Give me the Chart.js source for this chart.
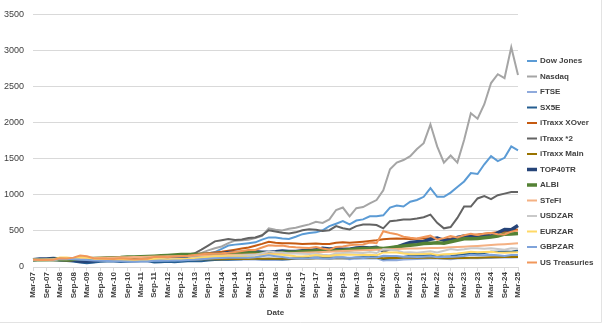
<!DOCTYPE html>
<html>
<head>
<meta charset="utf-8">
<script src="https://cdn.jsdelivr.net/npm/chart.js@4.4.1/dist/chart.umd.min.js"></script>
<style>
  html, body { margin: 0; padding: 0; background: #fff; }
  #wrap { width: 604px; height: 326px; }
</style>
</head>
<body>
<div id="wrap"><canvas id="perfChart" width="604" height="326"></canvas></div>
<script>
// quarter-end dates, every second one is labelled on the axis
const dates = [
  'Mar-07','Jun-07','Sep-07','Dec-07','Mar-08','Jun-08','Sep-08','Dec-08',
  'Mar-09','Jun-09','Sep-09','Dec-09','Mar-10','Jun-10','Sep-10','Dec-10',
  'Mar-11','Jun-11','Sep-11','Dec-11','Mar-12','Jun-12','Sep-12','Dec-12',
  'Mar-13','Jun-13','Sep-13','Dec-13','Mar-14','Jun-14','Sep-14','Dec-14',
  'Mar-15','Jun-15','Sep-15','Dec-15','Mar-16','Jun-16','Sep-16','Dec-16',
  'Mar-17','Jun-17','Sep-17','Dec-17','Mar-18','Jun-18','Sep-18','Dec-18',
  'Mar-19','Jun-19','Sep-19','Dec-19','Mar-20','Jun-20','Sep-20','Dec-20',
  'Mar-21','Jun-21','Sep-21','Dec-21','Mar-22','Jun-22','Sep-22','Dec-22',
  'Mar-23','Jun-23','Sep-23','Dec-23','Mar-24','Jun-24','Sep-24','Dec-24',
  'Mar-25'
];

const yTicks = [0, 500, 1000, 1500, 2000, 2500, 3000, 3500];

const dowJones = [100,102,100,95,88,90,85,72,66,75,85,90,95,88,98,105,110,108,100,106,118,120,125,130,
  162,175,190,207,250,297,310,320,330,342,380,410,410,395,388,419,455,470,480,509,567,600,635,590,
  644,660,702,702,716,824,851,838,905,928,973,1094,973,973,1031,1108,1185,1301,1288,1423,1536,1468,1513,1671,1617];

const nasdaq = [100,104,110,108,95,96,90,72,70,82,95,100,104,95,108,115,122,118,110,115,130,128,135,140,
  165,195,230,260,284,330,365,372,378,400,432,536,515,505,530,545,567,590,626,610,660,790,824,702,
  815,830,882,928,1063,1355,1446,1482,1536,1635,1716,1977,1671,1446,1544,1446,1760,2130,2054,2256,2549,2671,2617,3044,2661];

const ftse = [100,105,103,102,90,89,78,70,62,67,81,86,90,78,88,94,94,94,81,88,92,88,91,94,
  102,99,103,107,105,107,105,104,107,103,96,99,98,103,110,113,116,116,117,122,112,121,119,107,
  116,118,118,120,90,98,93,103,107,112,113,117,119,114,109,118,121,120,121,123,126,130,131,130,136];

const sx5e = [100,108,106,107,89,82,76,62,53,61,74,77,77,68,74,76,80,79,62,66,72,66,72,78,
  79,80,90,98,100,102,104,107,128,118,110,115,110,104,108,118,128,130,132,134,130,132,132,120,
  132,136,138,146,110,122,122,140,155,160,158,166,158,145,148,166,180,184,180,194,212,212,215,212,230];

const itraxxXover = [100,102,103,105,108,106,108,112,115,120,125,128,130,133,136,140,143,146,148,152,156,160,165,170,
  180,185,192,200,210,225,240,255,270,295,320,350,335,330,330,325,320,322,325,318,320,335,342,335,
  342,350,360,370,385,392,395,392,388,390,395,400,392,385,395,410,425,440,450,460,470,480,490,505,520];

const itraxx2 = [100,98,105,110,115,112,118,125,115,110,108,112,115,118,122,125,128,130,135,140,148,155,165,175,
  190,240,297,355,370,387,374,380,401,410,440,509,491,475,464,480,509,522,515,500,510,567,536,520,
  567,590,590,581,536,635,644,658,658,671,689,725,612,536,554,680,838,838,950,982,941,995,1017,1040,1040];

const itraxxMain = [100,99,97,95,92,90,85,80,82,88,92,95,96,97,98,99,100,99,96,98,100,102,103,104,
  105,106,107,108,109,110,111,112,112,113,113,114,114,115,116,117,118,119,120,121,121,122,122,123,
  124,125,126,127,122,124,126,127,128,128,129,129,126,122,121,123,125,127,129,132,134,136,138,139,140];

const top40tr = [100,110,112,118,112,115,95,80,78,88,100,108,112,105,115,122,125,125,120,125,132,133,140,150,
  155,155,168,180,185,200,200,205,215,210,205,205,210,220,215,215,225,225,240,260,250,255,245,245,
  265,270,265,272,220,255,275,310,340,350,355,385,400,370,370,410,430,420,405,440,430,475,520,515,575];

const albi = [100,101,99,103,104,100,106,118,116,118,122,124,128,132,140,140,142,146,150,155,160,166,172,172,
  174,172,174,172,176,182,186,192,196,194,190,180,192,200,206,208,214,218,224,232,236,228,232,240,
  248,255,258,262,255,268,280,290,300,310,325,330,335,330,350,370,390,390,395,405,415,430,455,458,464];

const stefi = [100,102.3,104.7,107.2,109.8,112.8,115.9,119.2,122.4,124.9,127.2,129.7,132.2,134.2,136.1,138.1,
  140.1,142.0,143.9,145.8,147.8,149.8,151.7,153.7,155.7,157.7,159.7,161.7,163.8,166.2,168.5,170.9,
  173.4,176.1,178.9,181.7,184.5,187.8,191.1,194.6,198.2,201.8,205.5,209.2,212.9,216.6,220.4,224.2,
  228.0,231.9,235.8,239.7,243.7,246.6,249.3,252.0,254.7,257.1,259.5,261.9,264.4,268.2,272.2,276.4,
  280.8,286.4,292.1,298.0,304.1,310.2,316.4,322.8,329.3];

const usdzar = [100,97,95,94,111,109,114,131,131,107,103,102,100,105,96,91,94,93,111,111,106,113,114,117,
  127,136,138,144,144,146,155,160,166,168,191,213,204,202,188,188,184,180,186,171,162,188,194,198,
  199,194,208,193,246,239,230,202,204,197,208,219,201,224,248,234,245,260,260,252,260,250,238,259,252];

const eurzar = [100,98,101,103,132,130,121,137,130,111,113,109,102,97,98,92,99,101,112,108,105,106,110,115,
  122,133,140,149,149,149,147,144,134,140,160,174,172,169,159,149,147,154,165,153,151,165,169,170,
  168,165,171,162,202,201,202,186,178,175,180,186,167,175,181,188,199,212,206,208,210,201,198,202,204];

const gbpzar = [100,101,102,99,114,110,106,99,96,89,86,84,78,81,77,73,77,77,88,89,87,90,91,96,
  99,106,114,121,123,127,129,127,127,135,148,162,149,138,125,119,118,120,127,117,117,127,130,129,
  133,126,131,131,155,151,152,141,143,139,143,149,135,139,141,144,154,168,162,164,168,164,154,166,167];

const usTreasuries = [100,97,98,100,121,117,130,160,150,122,117,113,112,122,114,108,112,114,140,142,135,146,150,155,
  168,178,182,188,190,196,208,222,235,236,270,300,295,298,280,272,268,265,276,255,240,278,285,300,
  310,312,340,330,495,470,455,420,405,395,415,435,380,400,430,410,440,460,445,460,470,455,450,490,505];

const seriesNames = ['Dow Jones','Nasdaq','FTSE','SX5E','iTraxx XOver','iTraxx *2','iTraxx Main',
  'TOP40TR','ALBI','STeFI','USDZAR','EURZAR','GBPZAR','US Treasuries'];
const seriesValues = [dowJones, nasdaq, ftse, sx5e, itraxxXover, itraxx2, itraxxMain,
  top40tr, albi, stefi, usdzar, eurzar, gbpzar, usTreasuries];
const seriesColors = ['#5B9BD5','#A5A5A5','#8FAADC','#255E91','#C55A11','#636363','#997300',
  '#264478','#548235','#F4B183','#C9C9C9','#FFD966','#7FA3DA','#F1975A'];
const seriesWidths = [2,2,2,2,2,2,2,3.5,3.5,2,2,2,2,2];

const FONT = '"Liberation Sans", Arial, sans-serif';

// legend drawn to the right of the plot, one short line per series
const sideLegend = {
  id: 'sideLegend',
  afterDraw(chart) {
    const ctx = chart.ctx;
    const top = 61, step = 15.5;
    ctx.save();
    ctx.font = 'bold 8px ' + FONT;
    ctx.textBaseline = 'middle';
    chart.data.datasets.forEach((ds, i) => {
      const y = top + i * step;
      ctx.strokeStyle = ds.borderColor;
      ctx.lineWidth = ds.borderWidth;
      ctx.beginPath();
      ctx.moveTo(527, y);
      ctx.lineTo(537, y);
      ctx.stroke();
      ctx.fillStyle = '#404040';
      ctx.fillText(ds.label, 540, y);
    });
    ctx.restore();
  }
};

// thin frame around the chart area, as in the spreadsheet export
const frame = {
  id: 'frame',
  beforeDraw(chart) {
    const ctx = chart.ctx;
    ctx.save();
    ctx.fillStyle = '#fff';
    ctx.fillRect(0, 0, chart.width, chart.height);
    ctx.strokeStyle = '#E3E3E3';
    ctx.lineWidth = 1;
    ctx.beginPath();
    ctx.moveTo(0, 322.5);
    ctx.lineTo(601.5, 322.5);
    ctx.lineTo(601.5, 0);
    ctx.stroke();
    ctx.restore();
  }
};

new Chart(document.getElementById('perfChart'), {
  type: 'line',
  data: {
    labels: dates,
    datasets: seriesNames.map((name, i) => ({
      label: name,
      data: seriesValues[i],
      borderColor: seriesColors[i],
      backgroundColor: seriesColors[i],
      borderWidth: seriesWidths[i],
      pointRadius: 0,
      tension: 0,
      fill: false,
      order: seriesNames.length - i
    }))
  },
  options: {
    responsive: false,
    animation: false,
    layout: { padding: { top: 8, right: 86, left: 0, bottom: 0 } },
    plugins: {
      legend: { display: false },
      tooltip: { enabled: false }
    },
    scales: {
      x: {
        offset: false,
        grid: {
          drawOnChartArea: false,
          drawTicks: true,
          tickLength: 4,
          color: (c) => (c.index % 2 === 0 ? '#D9D9D9' : 'rgba(0,0,0,0)')
        },
        border: { color: '#D9D9D9' },
        ticks: {
          autoSkip: false,
          minRotation: 90,
          maxRotation: 90,
          padding: 1,
          color: '#404040',
          font: { family: FONT, size: 8, weight: 'bold' },
          callback: (v, i) => (i % 2 === 0 ? dates[i] : '')
        },
        title: {
          display: true,
          text: 'Date',
          color: '#404040',
          font: { family: FONT, size: 8, weight: 'bold' },
          padding: { top: 0, bottom: 8 }
        },
        afterFit: (scale) => { scale.height = 59; }
      },
      y: {
        min: yTicks[0],
        max: yTicks[yTicks.length - 1],
        afterBuildTicks: (scale) => { scale.ticks = yTicks.map(v => ({ value: v })); },
        grid: { color: '#D9D9D9', drawTicks: false },
        border: { display: false },
        ticks: {
          padding: 9,
          color: '#404040',
          font: { family: FONT, size: 9 },
          callback: (v) => String(v)
        },
        afterFit: (scale) => { scale.width = 33; }
      }
    }
  },
  plugins: [frame, sideLegend]
});
</script>
</body>
</html>
